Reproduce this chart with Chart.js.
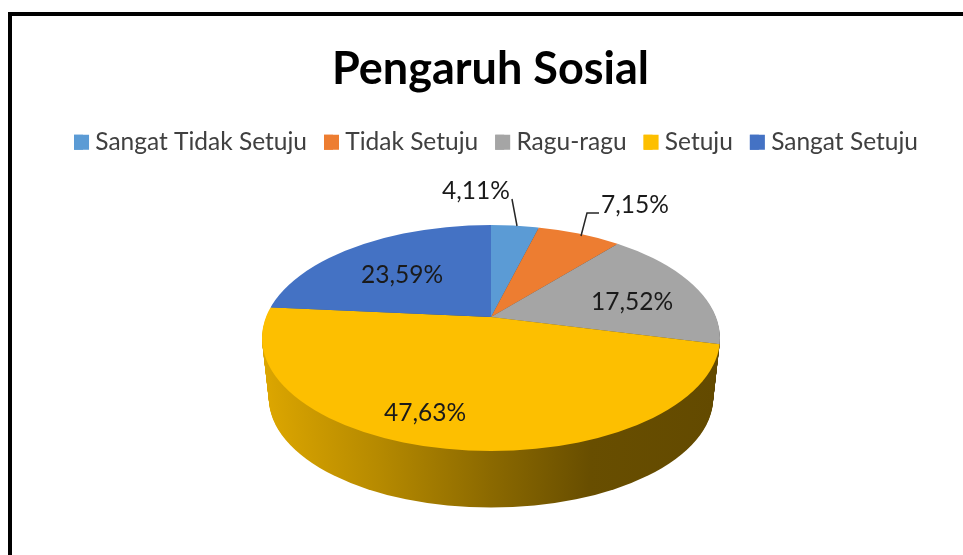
<!DOCTYPE html>
<html>
<head>
<meta charset="utf-8">
<title>Pengaruh Sosial</title>
<script src="https://cdn.jsdelivr.net/npm/chart.js@4/dist/chart.umd.min.js"></script>
<style>
	html, body { margin: 0; padding: 0; background: #fff; overflow: hidden; }
	#wrap { position: relative; width: 963px; height: 555px; overflow: hidden; }
	#frame { position: absolute; left: 8px; top: 12px; width: 1000px; height: 600px; border: 4px solid #000; box-sizing: border-box; }
	#grafica { position: absolute; left: 0; top: 0; }
</style>
</head>
<body>
<div id="wrap">
	<div id="frame"></div>
	<canvas id="grafica" width="963" height="555"></canvas>
</div>
<script>
var kategori = ['Sangat Tidak Setuju', 'Tidak Setuju', 'Ragu-ragu', 'Setuju', 'Sangat Setuju'];
var nilai = [4.11, 7.15, 17.52, 47.63, 23.59];
var warna = ['#5B9BD5', '#ED7D31', '#A5A5A5', '#FDBF00', '#4472C4'];
var posisiLabel = [[476, 191], [635, 205], [632, 302], [425, 413], [402, 275]];
var garisLabel = [
	[[512, 199], [517, 226]],
	[[599, 213], [587, 213], [581, 236]]
];

// top face of the pie, the apex sits above the ellipse centre because of the perspective
var pusatX = 491, pusatY = 338, rx = 229, ry = 113, geserPuncak = 21;
var tebal = 60, susut = 0.03;
var stopSisi = [[0, 0.87], [0.25, 0.72], [0.5, 0.55], [0.72, 0.41], [1, 0.39]];
var kotakLegenda = 15, geserLegendaX = 5.5, geserLegendaY = 3;

function warnaSisi(ctx, hex, x0, x1) {
	var r = parseInt(hex.substr(1, 2), 16), g = parseInt(hex.substr(3, 2), 16), b = parseInt(hex.substr(5, 2), 16);
	var grad = ctx.createLinearGradient(x0, 0, x1, 0);
	stopSisi.forEach(function(s) {
		grad.addColorStop(s[0], 'rgb(' + Math.round(r * s[1]) + ',' + Math.round(g * s[1]) + ',' + Math.round(b * s[1]) + ')');
	});
	return grad;
}

// clip to the ellipse and squash the library's arcs around the apex
function pasangTransform(ctx, arc, t) {
	var s = 1 - susut * t;
	var cy = pusatY + tebal * t;
	ctx.beginPath();
	ctx.ellipse(pusatX, cy, rx * s, ry * s, 0, 0, Math.PI * 2);
	ctx.clip();
	ctx.translate(pusatX, cy - geserPuncak * s);
	ctx.scale(s, s * ry / rx);
	ctx.translate(-arc.x, -arc.y);
}

var pie3d = {
	id: 'pie3d',
	beforeDatasetDraw: function(chart, args) {
		var ctx = chart.ctx;
		var arcs = args.meta.data;
		// side wall, swept from the bottom ellipse up to the top one
		for (var i = tebal; i >= 1; i--) {
			var t = i / tebal;
			arcs.forEach(function(arc, n) {
				ctx.save();
				pasangTransform(ctx, arc, t);
				var sisi = Object.create(arc);
				sisi.options = Object.assign({}, arc.options, { backgroundColor: warnaSisi(ctx, warna[n], arc.x - rx, arc.x + rx) });
				sisi.draw(ctx, chart.chartArea);
				ctx.restore();
			});
		}
		ctx.save();
		pasangTransform(ctx, arcs[0], 0);
		return true;
	},
	afterDatasetDraw: function(chart) {
		chart.ctx.restore();
	},
	afterDatasetsDraw: function(chart) {
		var ctx = chart.ctx;
		ctx.save();
		ctx.strokeStyle = '#262626';
		ctx.lineWidth = 1.5;
		garisLabel.forEach(function(g) {
			ctx.beginPath();
			g.forEach(function(p, i) {
				if (i == 0) ctx.moveTo(p[0], p[1]);
				else ctx.lineTo(p[0], p[1]);
			});
			ctx.stroke();
		});
		ctx.fillStyle = '#1a1a1a';
		ctx.font = '24.5px Lato';
		ctx.textAlign = 'center';
		ctx.textBaseline = 'middle';
		nilai.forEach(function(v, i) {
			ctx.fillText(v.toFixed(2).replace('.', ',') + '%', posisiLabel[i][0], posisiLabel[i][1]);
		});
		ctx.restore();
	},
	beforeDraw: function(chart) {
		chart.legend.left += geserLegendaX;
		chart.legend.right += geserLegendaX;
		chart.legend.top += geserLegendaY;
		chart.legend.bottom += geserLegendaY;
	},
	// the legend keeps its text close to the swatch, widen each swatch to the full square
	afterDraw: function(chart) {
		var ctx = chart.ctx;
		chart.legend.legendItems.forEach(function(item, i) {
			var h = chart.legend.legendHitBoxes[i];
			var atas = h.top + geserLegendaY + h.height / 2 - kotakLegenda / 2;
			ctx.fillStyle = item.fillStyle;
			ctx.fillRect(h.left + geserLegendaX, atas, kotakLegenda, kotakLegenda);
		});
	}
};

var chart = new Chart(document.getElementById('grafica').getContext('2d'), {
	type: 'pie',
	data: {
		labels: kategori,
		datasets: [{
			data: nilai,
			backgroundColor: warna,
			borderWidth: 0,
			hoverOffset: 0,
			clip: false
		}]
	},
	options: {
		responsive: false,
		animation: false,
		radius: 300,
		layout: { padding: { left: 18, top: 42 } },
		plugins: {
			tooltip: { enabled: false },
			title: {
				display: true,
				text: 'Pengaruh Sosial',
				color: '#000',
				font: { family: 'Lato', size: 45, weight: 'bold' },
				padding: { top: 0, bottom: 14 }
			},
			legend: {
				position: 'top',
				labels: {
					color: '#404040',
					font: { family: 'Lato', size: 24.5 },
					boxWidth: 9,
					boxHeight: 15,
					padding: 17
				}
			}
		}
	},
	plugins: [pie3d]
});
</script>
</body>
</html>
